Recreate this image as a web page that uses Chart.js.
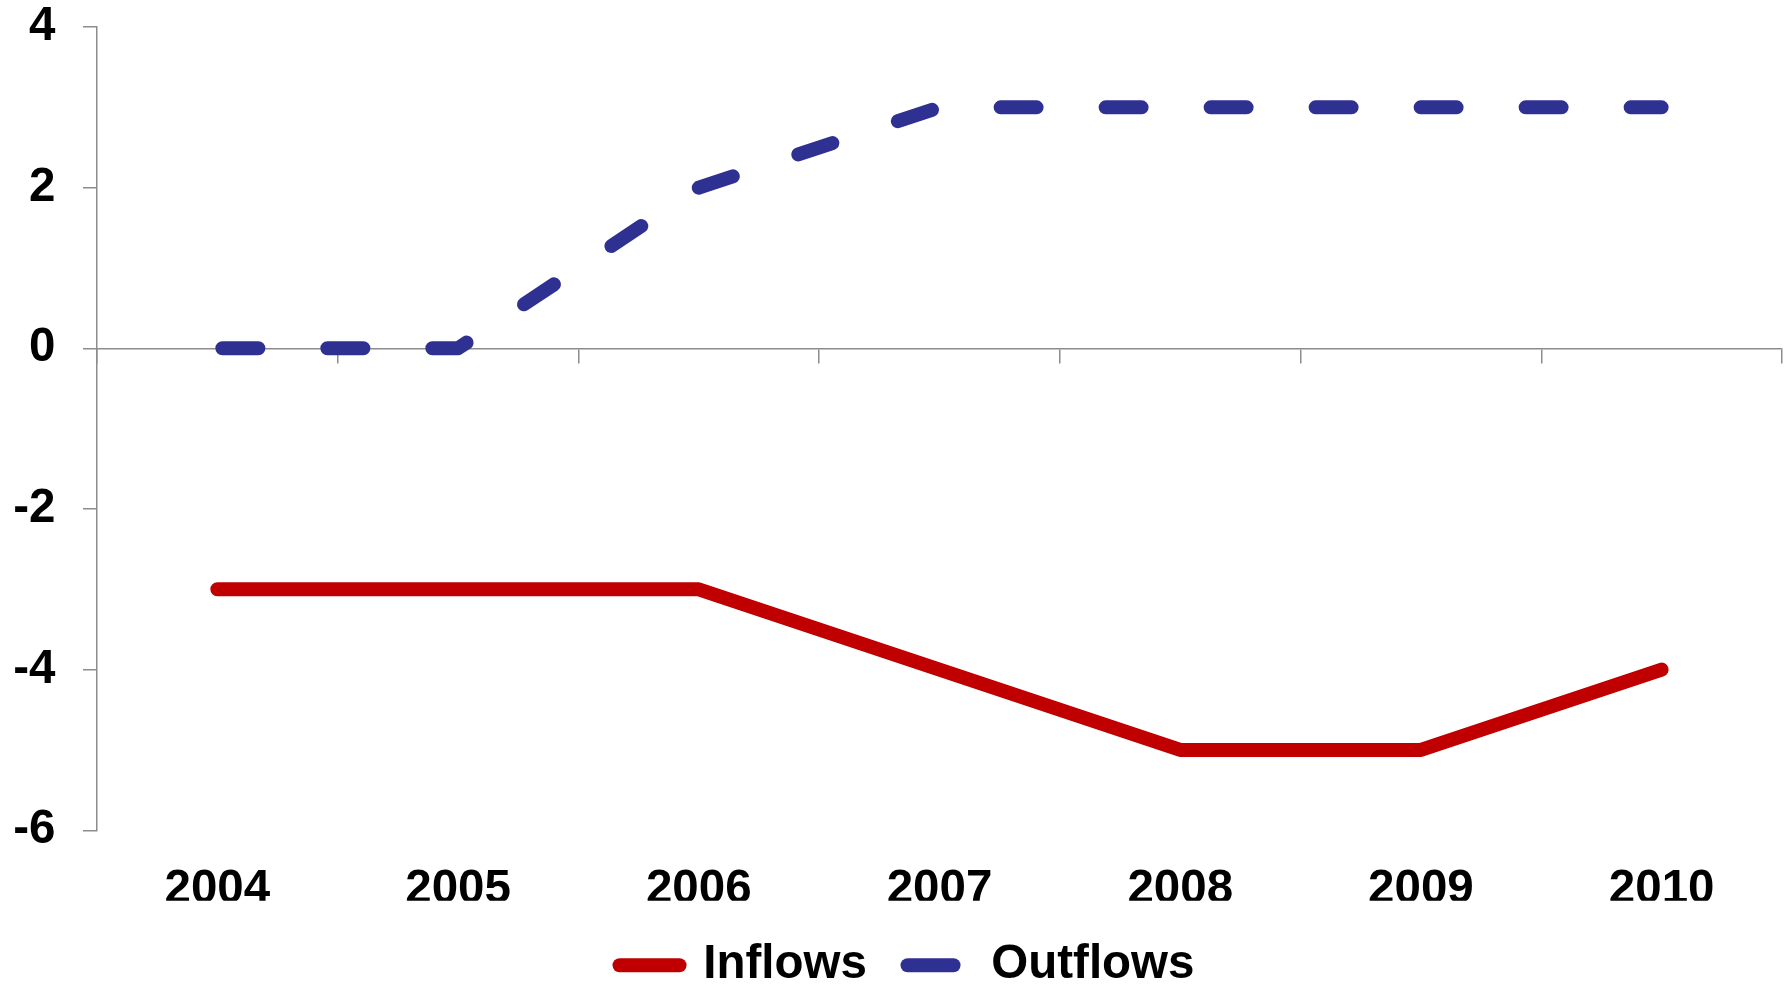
<!DOCTYPE html>
<html>
<head>
<meta charset="utf-8">
<script src="https://cdn.jsdelivr.net/npm/chart.js@4/dist/chart.umd.min.js"></script>
<style>
	body { margin: 0; background: #ffffff; }
	canvas { display: block; }
</style>
</head>
<body>
<canvas id="flowChart" width="1791" height="985"></canvas>
<script>
var years = ["2004", "2005", "2006", "2007", "2008", "2009", "2010"];
var inflows = [-3, -3, -3, -4, -5, -5, -4];
var outflows = [0, 0, 2, 3, 3, 3, 3];
var yTicks = [4, 2, 0, -2, -4, -6];

var labelFont = "'Liberation Sans', Arial, sans-serif";
var axisGray = "#8c8c8c";

// move the legend a bit to the right, like the original
var legendShift = {
	id: "legendShift",
	afterLayout: function (chart) {
		chart.legend.left += 16;
		chart.legend.right += 16;
	}
};

var ctx = document.getElementById("flowChart").getContext("2d");

var flowChart = new Chart(ctx, {
	type: "line",
	data: {
		labels: years,
		datasets: [
			{
				label: "Inflows",
				data: inflows,
				borderColor: "#C00000",
				backgroundColor: "#C00000",
				borderWidth: 14,
				borderCapStyle: "round",
				borderJoinStyle: "round",
				pointRadius: 0,
				pointStyle: "line",
				tension: 0
			},
			{
				label: "Outflows",
				data: outflows,
				borderColor: "#2E3192",
				backgroundColor: "#2E3192",
				borderWidth: 14,
				borderDash: [36, 69],
				borderDashOffset: -5,
				borderCapStyle: "round",
				borderJoinStyle: "round",
				pointRadius: 0,
				pointStyle: "line",
				tension: 0
			}
		]
	},
	options: {
		responsive: false,
		animation: false,
		layout: {
			padding: { top: 27, right: 9, left: 0, bottom: -14 }
		},
		plugins: {
			tooltip: { enabled: false },
			legend: {
				position: "bottom",
				labels: {
					usePointStyle: true,
					pointStyleWidth: 60,
					padding: 40.65,
					color: "#000000",
					font: { family: labelFont, size: 47.5, weight: "bold" },
					generateLabels: function (chart) {
						var items = Chart.defaults.plugins.legend.labels.generateLabels(chart);
						items.forEach(function (item) {
							item.lineCap = "round";
							item.lineWidth = 14;
						});
						// legend swatch of the dashed series is one longer dash
						items[1].lineDash = [46, 200];
						items[1].lineDashOffset = 0;
						return items;
					}
				}
			}
		},
		scales: {
			x: {
				type: "category",
				offset: true,
				afterFit: function (scale) {
					scale.height = 70.6;
				},
				grid: { display: false, drawTicks: false },
				border: { display: false },
				ticks: {
					padding: 31.5,
					color: "#000000",
					maxRotation: 0,
					font: { family: labelFont, size: 47.5, weight: "bold", lineHeight: 1.2 }
				}
			},
			x2: {
				type: "category",
				labels: years,
				position: { y: 0 },
				offset: true,
				grid: {
					offset: true,
					drawOnChartArea: false,
					drawTicks: true,
					tickLength: 14,
					color: axisGray,
					lineWidth: 1.5
				},
				border: { color: axisGray, width: 1.5 },
				ticks: { display: false }
			},
			y: {
				min: -6,
				max: 4,
				afterFit: function (scale) {
					scale.width = 97;
					scale.paddingTop = 0;
					scale.paddingBottom = 0;
				},
				afterBuildTicks: function (scale) {
					scale.ticks = yTicks.map(function (v) { return { value: v }; });
				},
				grid: {
					drawOnChartArea: false,
					drawTicks: true,
					tickLength: 14,
					color: axisGray,
					lineWidth: 1.5
				},
				border: { color: axisGray, width: 1.5 },
				ticks: {
					padding: 27.5,
					color: "#000000",
					font: { family: labelFont, size: 47.5, weight: "bold", lineHeight: 1 }
				}
			}
		}
	},
	plugins: [legendShift]
});
</script>
</body>
</html>
